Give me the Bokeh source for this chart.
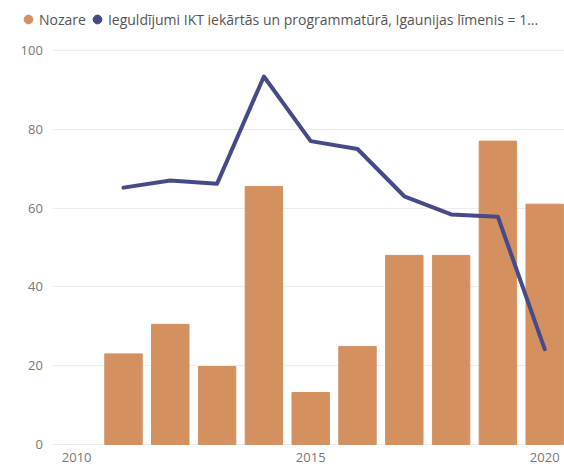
from bokeh.plotting import figure
from bokeh.models import (ColumnDataSource, Range1d, FixedTicker, Legend, LegendItem,
                          BoxAnnotation)
from bokeh.embed import file_html
from bokeh.resources import INLINE

years = [2011, 2012, 2013, 2014, 2015, 2016, 2017, 2018, 2019, 2020]
nozare = [23.0, 30.5, 19.8, 65.5, 13.2, 24.9, 48.0, 48.0, 77.0, 61.0]
ieguldijumi = [65.2, 67.0, 66.2, 93.4, 77.0, 75.0, 63.0, 58.4, 57.8, 24.2]
x_ticks = [2010, 2015, 2020]
y_ticks = [0, 20, 40, 60, 80, 100]
series_names = ["Nozare", "Ieguldījumi IKT iekārtās un programmatūrā, Igaunijas līmenis = 1..."]

BAR = "#D4915F"
LINE = "#464A88"
FONT = "Open Sans"
PLOT_LEFT = 2009.49   # left edge of the plotting area (where the value axis sits)

src = ColumnDataSource(dict(year=years, nozare=nozare, ieg=ieguldijumi))

p = figure(width=564, height=466, output_backend="svg", toolbar_location=None,
           x_range=Range1d(2008.372, 2020.423), y_range=Range1d(-5.584, 112.69),
           min_border_left=0, min_border_right=0, min_border_top=0, min_border_bottom=0)
p.outline_line_color = None
p.background_fill_color = "white"
p.border_fill_color = "white"
p.extra_y_ranges = {"hidden": Range1d(1000, 1001)}

# mask the grid to the left of the plotting area (behind the value labels)
p.add_layout(BoxAnnotation(right=PLOT_LEFT, fill_color="white", fill_alpha=1,
                           line_color=None, level="underlay"))

p.vbar(x="year", top="nozare", bottom=0, width=0.8, source=src, color=BAR)
p.line(x="year", y="ieg", source=src, line_color=LINE, line_width=4,
       line_join="round", line_cap="round")

# legend markers (drawn on a range that keeps them out of view)
s1 = p.scatter(x="year", y="nozare", source=src, marker="circle", fill_color=BAR,
               line_color=BAR, y_range_name="hidden")
s2 = p.scatter(x="year", y="ieg", source=src, marker="circle", fill_color=LINE,
               line_color=LINE, y_range_name="hidden")
legend = Legend(items=[LegendItem(label=series_names[0], renderers=[s1]),
                       LegendItem(label=series_names[1], renderers=[s2])],
                orientation="horizontal", location=(17, 436),
                glyph_width=22, glyph_height=22, label_standoff=-1, spacing=0,
                padding=0, margin=0, border_line_color=None, background_fill_alpha=0,
                label_text_font=FONT, label_text_font_size="14px",
                label_text_color="#555555", label_height=22)
p.add_layout(legend)

p.xaxis.ticker = FixedTicker(ticks=x_ticks)
p.yaxis.ticker = FixedTicker(ticks=y_ticks)
p.yaxis.fixed_location = PLOT_LEFT
p.xaxis.fixed_location = 0
for ax in (p.xaxis, p.yaxis):
    ax.axis_line_color = None
    ax.major_tick_line_color = None
    ax.minor_tick_line_color = None
    ax.major_label_text_font = FONT
    ax.major_label_text_font_size = "13px"
    ax.major_label_text_color = "#777777"
p.xaxis.major_label_standoff = 3
p.yaxis.major_label_standoff = 4

p.xgrid.grid_line_color = None
p.ygrid.grid_line_color = "#EDEDED"
p.ygrid.grid_line_width = 1

open("out.html", "w").write(file_html(p, INLINE))
